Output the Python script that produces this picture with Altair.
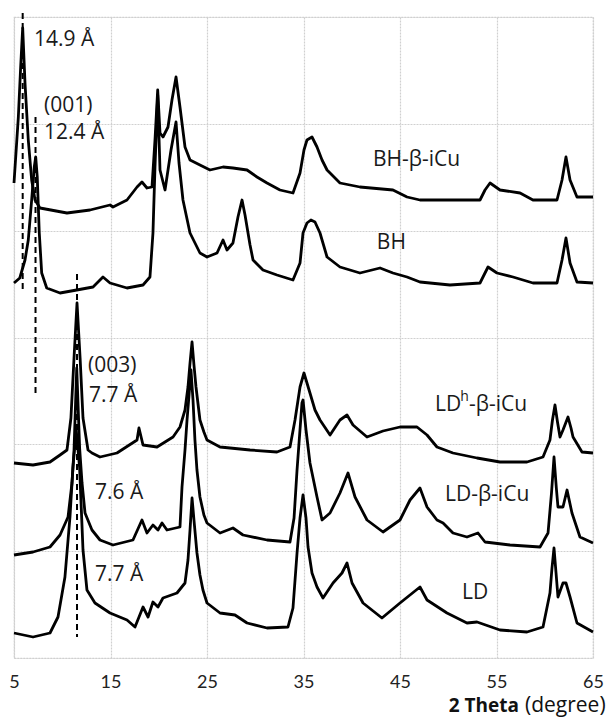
import altair as alt
import pandas as pd

# ---- data (2 theta in degrees, intensity in arbitrary units) ----
bh_icu_x = [5.0, 5.45, 5.69, 5.9, 6.14, 6.48, 6.83, 7.18, 7.69, 10.49, 12.88, 14.95, 15.26, 16.71, 17.75, 18.26,
            18.78, 19.3, 19.61, 19.89, 20.13, 20.44, 20.96, 21.37, 21.79, 22.2, 22.72, 23.24, 24.27, 25.31, 26.66,
            27.69, 29.15, 30.18, 31.22, 32.56, 33.91, 34.64, 35.05, 35.36, 35.88, 36.4, 36.92, 37.44, 38.78, 40.85,
            44.27, 45.73, 47.07, 50.18, 53.29, 53.81, 54.33, 55.36, 57.44, 58.78, 61.27, 61.79, 62.2, 62.62, 63.34,
            65.0]
bh_icu_y = [475, 541, 591, 630, 575, 518, 478, 458, 450, 445, 448, 453, 451, 458, 471, 476,
            470, 471, 518, 568, 525, 521, 531, 558, 581, 551, 511, 498, 493, 488, 491,
            490, 488, 481, 475, 468, 465, 485, 508, 518, 521, 511, 498, 488, 475, 471,
            468, 461, 458, 458, 458, 468, 475, 468, 465, 458, 458, 478, 501, 478, 461,
            461]

bh_x = [5.0, 5.6, 6.14, 6.48, 6.83, 7.1, 7.25, 7.41, 7.62, 7.87, 8.39, 9.77, 11.5, 13.19, 14.22, 14.95, 16.71,
        18.37, 19.09, 19.4, 19.61, 19.89, 20.13, 20.65, 21.27, 21.79, 22.1, 22.51, 23.24, 24.27, 25.0, 26.04,
        26.66, 27.07, 27.69, 28.21, 28.63, 28.94, 29.46, 29.77, 30.8, 32.25, 33.91, 34.64, 34.95, 35.36, 35.77,
        36.19, 36.71, 37.44, 38.78, 40.85, 42.93, 44.27, 45.73, 47.07, 50.18, 53.29, 54.12, 55.05, 56.71, 58.78,
        61.27, 61.79, 62.2, 62.62, 63.34, 65.0]
bh_y = [375, 380, 398, 418, 458, 491, 501, 481, 425, 385, 370, 365, 368, 371, 381, 375, 370,
        373, 381, 425, 491, 563, 488, 468, 508, 536, 495, 458, 425, 405, 401, 405,
        418, 408, 415, 441, 458, 443, 413, 398, 388, 383, 378, 395, 425, 435, 438,
        436, 425, 401, 391, 385, 390, 385, 381, 376, 373, 375, 391, 385, 381, 375,
        375, 398, 420, 395, 376, 375]

ldh_x = [5.0, 6.97, 8.73, 9.77, 10.49, 10.9, 11.22, 11.53, 11.85, 12.15, 12.67, 13.08, 13.91, 15.67, 17.75, 17.95,
         18.37, 19.82, 21.48, 22.2, 22.72, 23.03, 23.24, 23.45, 23.65, 23.86, 24.27, 24.68, 25.0, 26.35, 29.46,
         32.25, 33.6, 34.12, 34.64, 35.05, 35.36, 35.67, 36.19, 36.71, 37.75, 38.78, 39.51, 40.13, 41.58, 43.24,
         45.0, 46.76, 47.8, 48.83, 50.49, 52.98, 55.36, 58.16, 59.82, 60.54, 60.8, 61.06, 61.32, 61.58, 61.89,
         62.41, 62.72, 62.93, 63.86, 65.0]
ldh_y = [195, 193, 196, 203, 208, 240, 300, 355, 300, 240, 208, 205, 201, 205, 218, 230,
         213, 211, 221, 231, 248, 271, 295, 316, 293, 271, 238, 226, 218, 211, 208,
         206, 211, 238, 271, 285, 275, 265, 248, 238, 223, 238, 243, 233, 221, 227,
         231, 231, 223, 211, 205, 200, 196, 196, 201, 218, 238, 253, 236, 221, 228,
         241, 230, 221, 206, 205]

ldb_x = [5.0, 6.97, 8.73, 9.77, 10.6, 11.01, 11.22, 11.5, 11.8, 12.05, 12.36, 13.08, 13.91, 15.26, 17.33, 18.26,
         18.78, 19.4, 19.92, 20.34, 20.85, 22.2, 22.41, 22.72, 22.93, 23.14, 23.34, 23.55, 23.75, 23.96, 24.27,
         24.68, 25.0, 26.35, 27.69, 28.73, 31.22, 33.6, 34.02, 34.33, 34.84, 34.95, 35.26, 35.67, 36.4, 36.92,
         37.75, 38.78, 39.61, 40.34, 41.58, 43.24, 45.0, 46.04, 47.07, 47.8, 48.83, 49.46, 50.49, 51.94, 53.08,
         53.81, 56.4, 59.51, 60.34, 60.7, 60.96, 61.2, 61.37, 61.89, 62.31, 62.82, 63.65, 65.0]
ldb_y = [103, 106, 111, 123, 141, 175, 208, 290, 210, 175, 145, 128, 118, 113, 118, 138,
         125, 133, 128, 135, 128, 131, 171, 208, 238, 263, 288, 258, 218, 188, 161,
         143, 135, 125, 130, 123, 118, 116, 140, 188, 255, 258, 228, 195, 161, 138,
         145, 165, 185, 161, 138, 126, 138, 158, 170, 151, 138, 135, 125, 121, 125,
         116, 113, 111, 125, 165, 201, 170, 151, 151, 168, 145, 121, 115]

ld_x = [5.0, 6.97, 8.73, 9.56, 10.28, 10.8, 11.11, 11.45, 11.8, 12.15, 12.56, 13.39, 14.95, 16.71, 17.54, 18.37,
        18.89, 19.4, 19.92, 20.44, 21.89, 22.72, 23.03, 23.24, 23.45, 23.65, 23.96, 24.27, 24.58, 25.0, 26.35,
        27.9, 29.15, 31.22, 33.39, 33.91, 34.33, 34.64, 34.95, 35.26, 35.47, 35.88, 36.4, 37.02, 38.06, 38.99,
        39.51, 40.03, 41.17, 43.13, 45.0, 47.07, 47.8, 49.87, 51.94, 52.98, 55.36, 58.16, 59.82, 60.54, 60.75,
        60.96, 61.17, 61.37, 61.89, 62.2, 62.62, 63.34, 65.0]
ld_y = [25, 21, 25, 41, 81, 141, 191, 228, 190, 108, 68, 55, 45, 38, 31, 51,
        41, 56, 51, 60, 65, 75, 98, 128, 160, 138, 105, 83, 68, 55, 45,
        43, 35, 30, 31, 50, 105, 140, 163, 140, 111, 85, 71, 60, 75, 85,
        95, 75, 55, 40, 55, 71, 58, 45, 35, 36, 28, 26, 31, 65, 90,
        110, 85, 61, 75, 75, 61, 35, 26]

series_names = ["BH-β-iCu", "BH", "LDh-β-iCu", "LD-β-iCu", "LD"]
series_x = [bh_icu_x, bh_x, ldh_x, ldb_x, ld_x]
series_y = [bh_icu_y, bh_y, ldh_y, ldb_y, ld_y]

# dashed reference lines (2 theta, start intensity, end intensity)
dash_x = [5.9, 7.23, 11.53]
dash_y1 = [645, 541, 384]
dash_y2 = [368, 261, 21]

# annotations (normal size)
ann_text = ["14.9 Å", "(001)", "12.4 Å", "(003)", "7.7 Å", "7.6 Å", "7.7 Å",
            "BH-β-iCu", "BH", "LD", "-β-iCu", "LD-β-iCu", "LD"]
ann_x = [7.07, 8.11, 8.11, 12.67, 12.77, 13.39, 13.39, 42.2, 42.6, 48.63, 52.15, 49.66, 51.42]
ann_y = [618, 552, 525, 292, 262, 165, 83, 498, 415, 253, 253, 163, 65]
# superscript "h" of LDh
sup_text = ["h"]
sup_x = [51.25]
sup_y = [261]

tick_vals = [5, 15, 25, 35, 45, 55, 65]
ymax = 641
grid_vals = [ymax * i / 6 for i in range(7)]

# ---- build tables ----
rows = []
for name, xs, ys in zip(series_names, series_x, series_y):
    for i, (a, b) in enumerate(zip(xs, ys)):
        rows.append({"series": name, "theta": a, "intensity": b, "idx": i})
df = pd.DataFrame(rows)
dash_df = pd.DataFrame({"theta": dash_x, "y1": dash_y1, "y2": dash_y2})
ann_df = pd.DataFrame({"text": ann_text, "theta": ann_x, "intensity": ann_y})
sup_df = pd.DataFrame({"text": sup_text, "theta": sup_x, "intensity": sup_y})

xscale = alt.Scale(domain=[5, 65], nice=False, zero=False)
yscale = alt.Scale(domain=[0, ymax], nice=False, zero=False)

grid_color = "#d0d0d0"

lines = alt.Chart(df).mark_line(color="black", strokeWidth=2.8, strokeJoin="round").encode(
    x=alt.X("theta:Q", scale=xscale,
            axis=alt.Axis(values=tick_vals, title=None, grid=True, gridColor=grid_color,
                          gridDash=[2, 1], gridWidth=1.2, domain=False, ticks=False,
                          labelFont="Lato", labelFontSize=18, labelColor="#222222",
                          labelPadding=15, labelFlush=False)),
    y=alt.Y("intensity:Q", scale=yscale,
            axis=alt.Axis(values=grid_vals, title=None, labels=False, ticks=False, domain=False,
                          grid=True, gridColor=grid_color, gridDash=[2, 1], gridWidth=1.2)),
    detail="series:N",
    order="idx:Q",
)

dashes = alt.Chart(dash_df).mark_rule(color="black", strokeWidth=2, strokeDash=[6, 4]).encode(
    x="theta:Q", y="y1:Q", y2="y2:Q"
)

labels = alt.Chart(ann_df).mark_text(
    align="left", baseline="middle", font="Open Sans", fontSize=21, color="#1a1a1a"
).encode(x="theta:Q", y="intensity:Q", text="text:N")

sup = alt.Chart(sup_df).mark_text(
    align="left", baseline="middle", font="Open Sans", fontSize=14, color="#1a1a1a"
).encode(x="theta:Q", y="intensity:Q", text="text:N")

title_df = pd.DataFrame({"a": ["2 Theta"], "b": ["(degree)"]})
title_bold = alt.Chart(title_df).mark_text(
    align="right", baseline="middle", font="Open Sans", fontSize=19, fontWeight="bold", color="#111111"
).encode(x=alt.value(505), y=alt.value(689), text="a:N")
title_reg = alt.Chart(title_df).mark_text(
    align="left", baseline="middle", font="Open Sans", fontSize=21, color="#111111"
).encode(x=alt.value(511), y=alt.value(689), text="b:N")

chart = alt.layer(lines, dashes, labels, sup, title_bold, title_reg).properties(
    width=579, height=641,
    autosize=alt.AutoSizeParams(type="none"),
    padding={"left": 6, "top": 9, "right": 14, "bottom": 61},
).configure_view(stroke=grid_color, strokeWidth=1.2, strokeDash=[2, 1])

chart.save("out.html", embed_options={"renderer": "svg", "actions": False})
